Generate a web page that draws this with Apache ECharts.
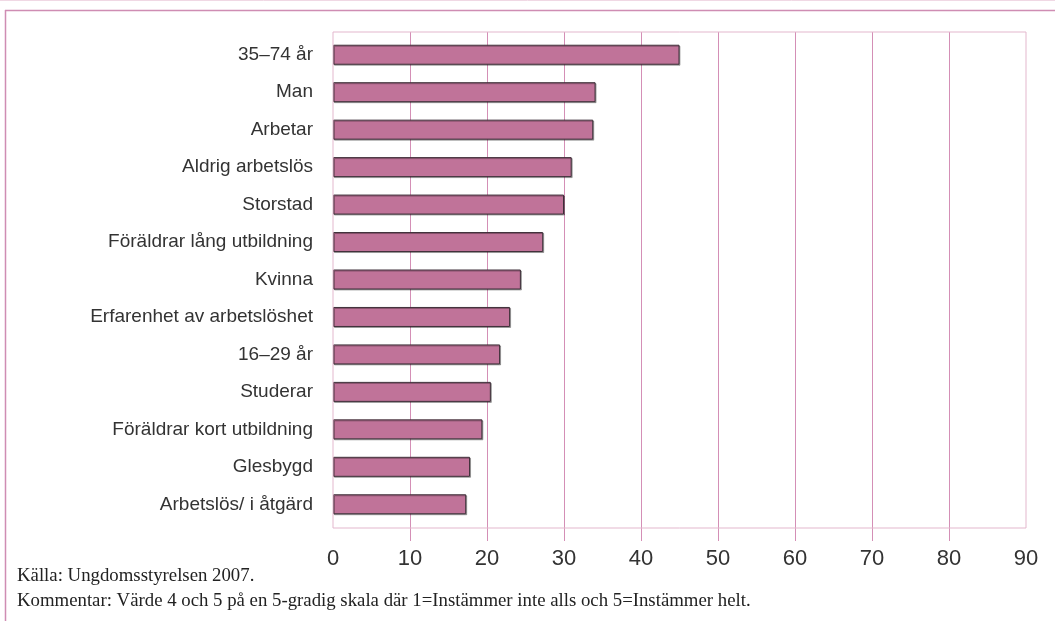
<!DOCTYPE html>
<html>
<head>
<meta charset="utf-8">
<script src="https://cdn.jsdelivr.net/npm/echarts@6/dist/echarts.min.js"></script>
<style>
  html, body { margin: 0; padding: 0; background: #fff; }
  #chart { width: 1055px; height: 623px; }
</style>
</head>
<body>
<div id="chart"></div>
<script>
// ==================== DATA ====================
const categories = [
  '35–74 år', 'Man', 'Arbetar', 'Aldrig arbetslös', 'Storstad',
  'Föräldrar lång utbildning', 'Kvinna', 'Erfarenhet av arbetslöshet',
  '16–29 år', 'Studerar', 'Föräldrar kort utbildning', 'Glesbygd',
  'Arbetslös/ i åtgärd'
];
const values = [45.0, 34.1, 33.8, 31.0, 30.0, 27.3, 24.4, 23.0, 21.7, 20.5, 19.4, 17.8, 17.3];
const sourceText = 'Källa: Ungdomsstyrelsen 2007.';
const noteText = 'Kommentar: Värde 4 och 5 på en 5-gradig skala där 1=Instämmer inte alls och 5=Instämmer helt.';

// ==================== CHART ====================
const chart = echarts.init(document.getElementById('chart'), null, { renderer: 'canvas' });
const pink = '#d48fb6', pinkLight = '#e3b7cd', textC = '#333';
const labelFont = '"Liberation Sans Narrow", "Liberation Sans", sans-serif';
const off = () => ({ show: false, lineStyle: { color: 'rgba(0,0,0,0)' } });
const hiddenValue = (gridIndex) => ({
  gridIndex, type: 'value', min: 0, max: 90, interval: 10, show: false,
  axisLine: off(), axisTick: off(), axisLabel: { show: false }, splitLine: off(),
  minorSplitLine: off(), minorTick: off()
});

chart.setOption({
  backgroundColor: '#fff',
  animation: false,
  grid: [
    // gridlines, running 13px below the box so they double as ticks
    { left: 333, right: 29, top: 32, bottom: 82 },
    // bars
    { left: 333, right: 29, top: 36, bottom: 100 },
    // plot box
    { left: 333, right: 29, top: 32, bottom: 95, show: true, borderColor: pinkLight, borderWidth: 1, z: 3 }
  ],
  xAxis: [
    {
      gridIndex: 0, type: 'value', min: 0, max: 90, interval: 10,
      axisLine: off(), axisTick: off(),
      axisLabel: { color: textC, fontSize: 22, fontFamily: labelFont, margin: 7 },
      splitLine: { show: true, showMinLine: false, showMaxLine: false, lineStyle: { color: pink, width: 1 } },
      minorSplitLine: off(), minorTick: off()
    },
    hiddenValue(1),
    hiddenValue(2)
  ],
  yAxis: [
    { gridIndex: 0, type: 'value', show: false, splitLine: off(), axisLine: off(), axisTick: off(), axisLabel: { show: false } },
    {
      gridIndex: 1, type: 'category', data: categories, inverse: true,
      axisLine: off(), axisTick: off(), splitLine: off(),
      axisLabel: { color: textC, fontSize: 19, fontFamily: labelFont, margin: 20 }
    },
    { gridIndex: 2, type: 'value', show: false, splitLine: off(), axisLine: off(), axisTick: off(), axisLabel: { show: false } }
  ],
  series: [{
    type: 'bar', xAxisIndex: 1, yAxisIndex: 1, data: values, barWidth: 20,
    itemStyle: {
      color: '#c07399', borderColor: '#3d2f38', borderWidth: 1,
      shadowColor: 'rgba(0,0,0,0.3)', shadowOffsetX: 1, shadowOffsetY: 1
    }
  }],
  graphic: [
    { type: 'line', shape: { x1: 0, y1: 0.5, x2: 1055, y2: 0.5 }, style: { stroke: '#f0d8e4', lineWidth: 1 } },
    { type: 'line', shape: { x1: 5, y1: 10.5, x2: 1055, y2: 10.5 }, style: { stroke: '#cf8db3', lineWidth: 1.5 } },
    { type: 'line', shape: { x1: 5.5, y1: 10, x2: 5.5, y2: 621 }, style: { stroke: '#cf8db3', lineWidth: 1.5 } },
    { type: 'text', left: 17, top: 567, style: { text: sourceText, font: '18.8px "Liberation Serif", serif', fill: '#222' } },
    { type: 'text', left: 17, top: 592, style: { text: noteText, font: '18.8px "Liberation Serif", serif', fill: '#222' } }
  ]
});
</script>
</body>
</html>
